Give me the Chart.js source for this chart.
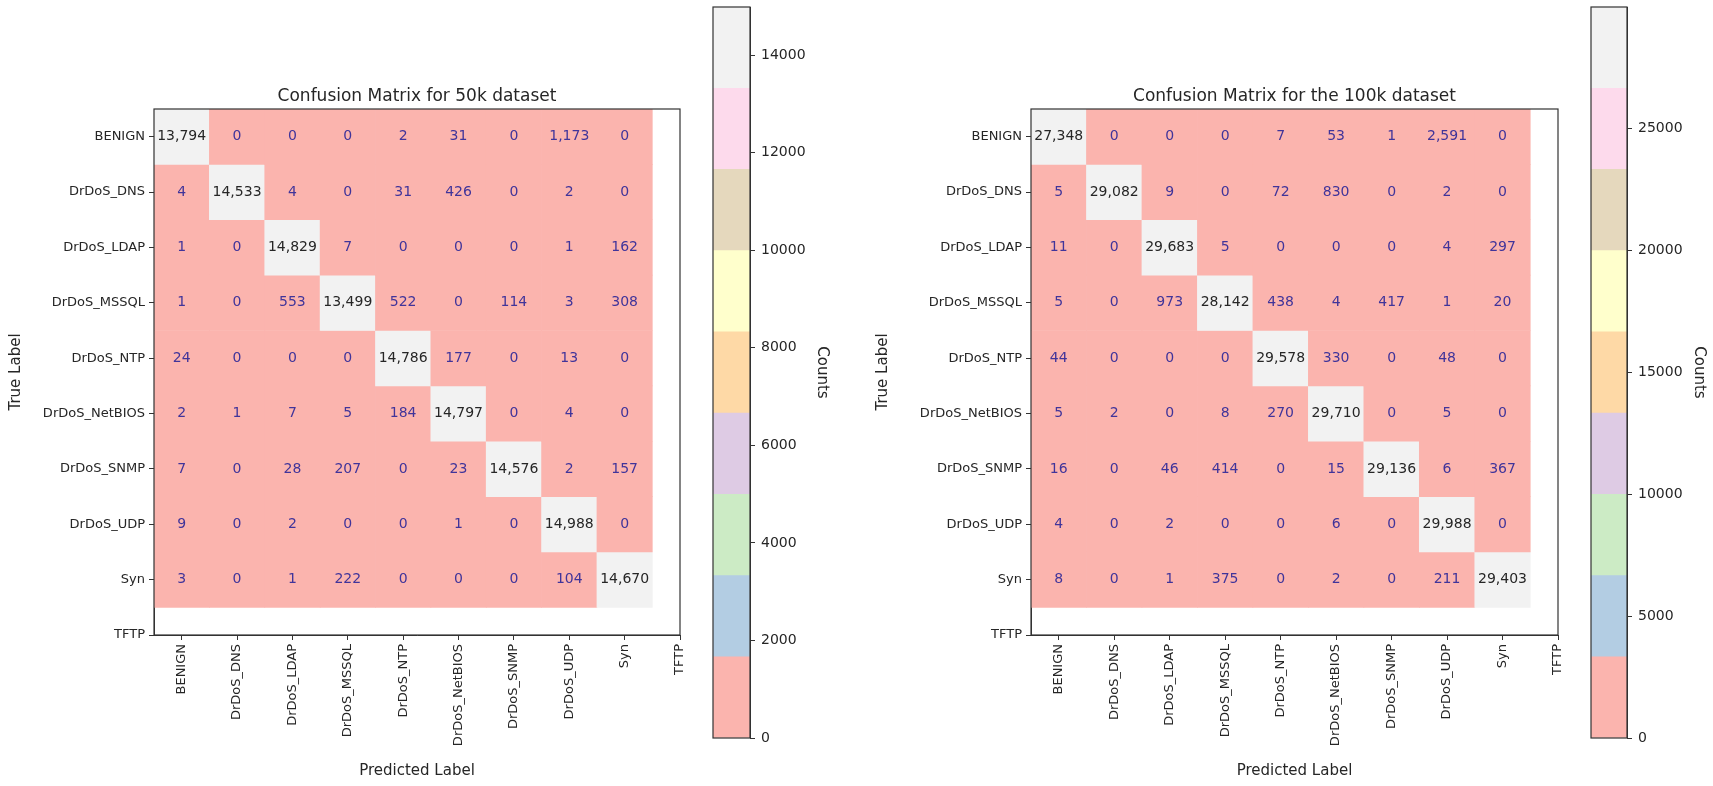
<!DOCTYPE html>
<html lang="en">
<head>
<meta charset="UTF-8">
<title>Confusion Matrices</title>
<script src="https://cdn.jsdelivr.net/npm/chart.js"></script>
<style>
  body { margin: 0; background: #fff; width: 1713px; height: 786px; overflow: hidden; position: relative; }
  canvas { position: absolute; top: 0; }
</style>
</head>
<body>
<canvas id="cm50k" width="700" height="786" style="left:0px"></canvas>
<canvas id="cb50k" width="160" height="786" style="left:700px"></canvas>
<canvas id="cm100k" width="720" height="786" style="left:860px"></canvas>
<canvas id="cb100k" width="133" height="786" style="left:1580px"></canvas>

<script>
// class names (TFTP has a tick but no row/column of data)
const classLabels = ['BENIGN', 'DrDoS_DNS', 'DrDoS_LDAP', 'DrDoS_MSSQL', 'DrDoS_NTP',
    'DrDoS_NetBIOS', 'DrDoS_SNMP', 'DrDoS_UDP', 'Syn', 'TFTP'];

// rows = true label, columns = predicted label
const cm50k = [
    [13794, 0, 0, 0, 2, 31, 0, 1173, 0],
    [4, 14533, 4, 0, 31, 426, 0, 2, 0],
    [1, 0, 14829, 7, 0, 0, 0, 1, 162],
    [1, 0, 553, 13499, 522, 0, 114, 3, 308],
    [24, 0, 0, 0, 14786, 177, 0, 13, 0],
    [2, 1, 7, 5, 184, 14797, 0, 4, 0],
    [7, 0, 28, 207, 0, 23, 14576, 2, 157],
    [9, 0, 2, 0, 0, 1, 0, 14988, 0],
    [3, 0, 1, 222, 0, 0, 0, 104, 14670]
];

const cm100k = [
    [27348, 0, 0, 0, 7, 53, 1, 2591, 0],
    [5, 29082, 9, 0, 72, 830, 0, 2, 0],
    [11, 0, 29683, 5, 0, 0, 0, 4, 297],
    [5, 0, 973, 28142, 438, 4, 417, 1, 20],
    [44, 0, 0, 0, 29578, 330, 0, 48, 0],
    [5, 2, 0, 8, 270, 29710, 0, 5, 0],
    [16, 0, 46, 414, 0, 15, 29136, 6, 367],
    [4, 0, 2, 0, 0, 6, 0, 29988, 0],
    [8, 0, 1, 375, 0, 2, 0, 211, 29403]
];

const cbTicks50k = [0, 2000, 4000, 6000, 8000, 10000, 12000, 14000];
const cbTicks100k = [0, 5000, 10000, 15000, 20000, 25000];

// matplotlib Pastel1
const pastel1 = ['#fbb4ae', '#b3cde3', '#ccebc5', '#decbe4', '#fed9a6',
    '#ffffcc', '#e5d8bd', '#fddaec', '#f2f2f2'];

Chart.defaults.font.family = '"DejaVu Sans", sans-serif';
Chart.defaults.font.size = 13;
Chart.defaults.color = '#262626';

const axisLine = '#333333';
const labelFont = { size: 15 };

function cellColor(v, vmax) {
    const k = Math.min(pastel1.length - 1, Math.floor(v / vmax * pastel1.length));
    return pastel1[k];
}

const framePlugin = {
    id: 'frame',
    afterDraw(chart) {
        const { ctx, chartArea: a } = chart;
        ctx.save();
        ctx.strokeStyle = axisLine;
        ctx.lineWidth = 1.2;
        ctx.strokeRect(a.left, a.top, a.right - a.left, a.bottom - a.top);
        ctx.restore();
    }
};

function tickGrid() {
    return { display: true, drawOnChartArea: false, drawTicks: true, tickLength: 5, color: axisLine, offset: false };
}

function drawMatrix(id, title, matrix, lay) {
    const vmax = Math.max(...matrix.flat());
    const n = classLabels.length;

    // each row is a dataset of floating bars spanning one cell
    const datasets = matrix.map((row, i) => ({
        data: row.map((v, j) => ({ x: j, y: [i - 0.5, i + 0.5] })),
        backgroundColor: row.map(v => cellColor(v, vmax)),
        grouped: false,
        barPercentage: 1,
        categoryPercentage: 1,
        borderWidth: 0
    }));

    const cellText = {
        id: 'cellText',
        afterDatasetsDraw(chart) {
            const { ctx, scales: { x, y } } = chart;
            ctx.save();
            ctx.font = '14px "DejaVu Sans"';
            ctx.textAlign = 'center';
            ctx.textBaseline = 'middle';
            matrix.forEach((row, i) => row.forEach((v, j) => {
                ctx.fillStyle = i === j ? '#262626' : '#40349a';
                ctx.fillText(v.toLocaleString('en-US'), x.getPixelForValue(j), y.getPixelForValue(i));
            }));
            ctx.restore();
        }
    };

    const titleText = {
        id: 'titleText',
        afterDraw(chart) {
            const { ctx, chartArea: a } = chart;
            ctx.save();
            ctx.font = '17px "DejaVu Sans"';
            ctx.fillStyle = '#262626';
            ctx.textAlign = 'center';
            ctx.textBaseline = 'alphabetic';
            ctx.fillText(title, (a.left + a.right) / 2, lay.titleY);
            ctx.restore();
        }
    };

    new Chart(document.getElementById(id), {
        type: 'bar',
        data: { datasets },
        options: {
            responsive: false,
            animation: false,
            layout: { padding: { top: lay.top, right: lay.right, left: 0, bottom: 0 } },
            plugins: { legend: { display: false }, tooltip: { enabled: false } },
            scales: {
                x: {
                    type: 'linear',
                    offset: false,
                    min: -0.5,
                    max: n - 1,
                    afterBuildTicks: s => { s.ticks = classLabels.map((_, i) => ({ value: i })); },
                    afterFit: s => { s.height = lay.xh; },
                    ticks: { callback: v => classLabels[v], minRotation: 90, maxRotation: 90, autoSkip: false, padding: 4 },
                    grid: tickGrid(),
                    border: { display: true, color: axisLine },
                    title: { display: true, text: 'Predicted Label', font: labelFont, padding: { top: 0, bottom: 6 } }
                },
                y: {
                    type: 'linear',
                    offset: false,
                    reverse: true,
                    min: -0.5,
                    max: n - 1,
                    afterBuildTicks: s => { s.ticks = classLabels.map((_, i) => ({ value: i })); },
                    afterFit: s => { s.width = lay.yw; },
                    ticks: { callback: v => classLabels[v], autoSkip: false, padding: 4 },
                    grid: tickGrid(),
                    border: { display: true, color: axisLine },
                    title: { display: true, text: 'True Label', font: labelFont, padding: { top: lay.yTitlePad, bottom: 0 } }
                }
            }
        },
        plugins: [cellText, framePlugin, titleText]
    });
}

function drawColorbar(id, matrix, tickValues, lay) {
    const vmax = Math.max(...matrix.flat());
    const band = vmax / pastel1.length;
    const datasets = pastel1.map((c, k) => ({
        data: [[k * band, (k + 1) * band]],
        backgroundColor: c,
        grouped: false,
        barPercentage: 1,
        categoryPercentage: 1,
        borderWidth: 0
    }));

    new Chart(document.getElementById(id), {
        type: 'bar',
        data: { labels: ['Counts'], datasets },
        options: {
            responsive: false,
            animation: false,
            layout: { padding: { top: 7, bottom: 48, left: lay.left, right: 0 } },
            plugins: { legend: { display: false }, tooltip: { enabled: false } },
            scales: {
                x: { display: false },
                y: {
                    position: 'right',
                    min: 0,
                    max: vmax,
                    afterBuildTicks: s => { s.ticks = tickValues.map(v => ({ value: v })); },
                    afterFit: s => { s.width = lay.yw; s.paddingTop = 0; s.paddingBottom = 0; },
                    ticks: { callback: v => String(v), padding: 6, font: { size: 14 } },
                    grid: tickGrid(),
                    border: { display: true, color: axisLine },
                    title: { display: true, text: 'Counts', font: labelFont, padding: { top: lay.titlePad, bottom: 0 } }
                }
            }
        },
        plugins: [framePlugin]
    });
}

drawMatrix('cm50k', 'Confusion Matrix for 50k dataset', cm50k,
    { top: 109, right: 20, xh: 151, yw: 154, yTitlePad: 7, titleY: 101 });
drawColorbar('cb50k', cm50k, cbTicks50k, { left: 13, yw: 110, titlePad: 29 });

drawMatrix('cm100k', 'Confusion Matrix for the 100k dataset', cm100k,
    { top: 109, right: 22, xh: 151, yw: 171, yTitlePad: 14, titleY: 101 });
drawColorbar('cb100k', cm100k, cbTicks100k, { left: 11, yw: 86, titlePad: 5 });
</script>
</body>
</html>
